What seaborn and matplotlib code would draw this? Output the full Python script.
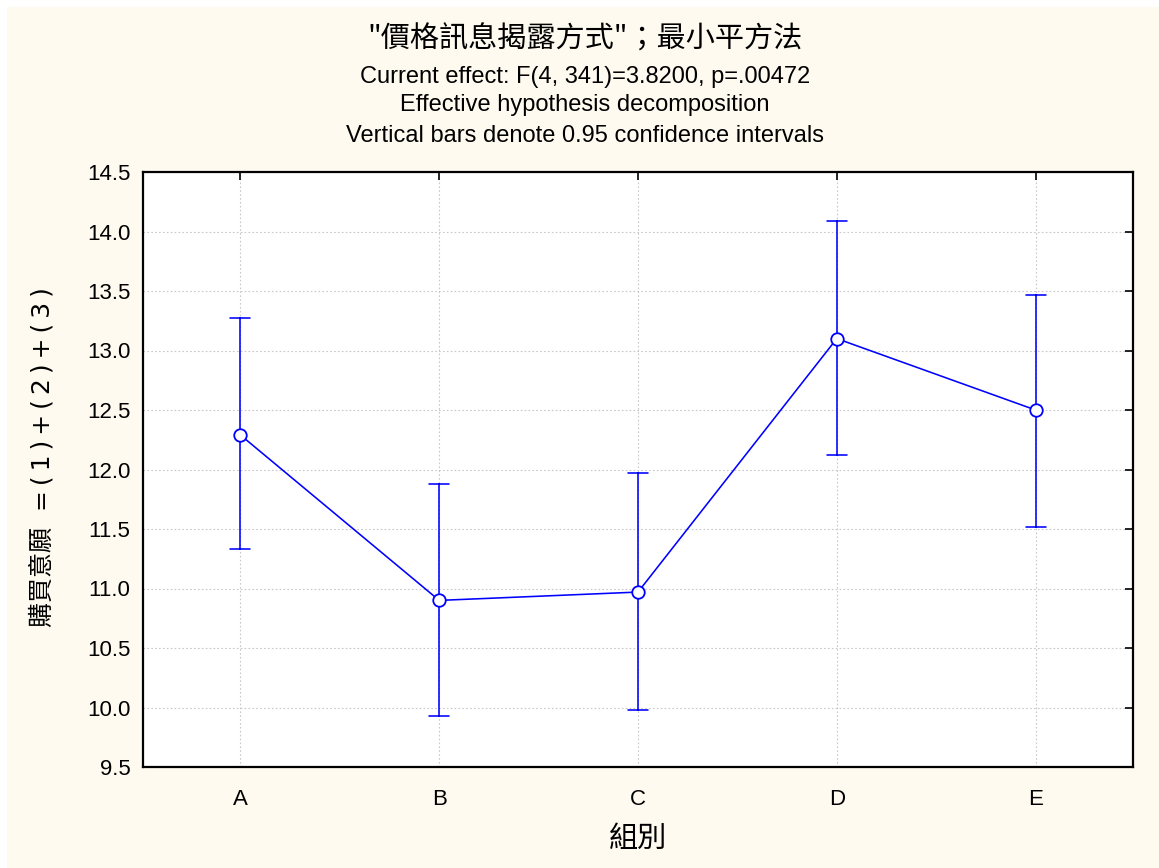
import pandas as pd
import matplotlib.pyplot as plt
import seaborn as sns
from matplotlib.patches import Rectangle

# Group means and 0.95 confidence limits
groups = ['A', 'B', 'C', 'D', 'E']
means = [12.29, 10.90, 10.97, 13.10, 12.50]
lower = [11.33, 9.93, 9.98, 12.12, 11.52]
upper = [13.27, 11.88, 11.97, 14.09, 13.47]

y_ticks = [9.5, 10.0, 10.5, 11.0, 11.5, 12.0, 12.5, 13.0, 13.5, 14.0, 14.5]

# long table: low / mean / high per group -> median = mean, full range = CI
rows = []
for g, lo, m, hi in zip(groups, lower, means, upper):
    for v in (lo, m, hi):
        rows.append({'組別': g, 'value': v})
df = pd.DataFrame(rows)

sns.set_style("white")
plt.rcParams['font.family'] = ['Liberation Sans', 'Noto Sans CJK TC', 'DejaVu Sans']
plt.rcParams['text.color'] = 'black'
plt.rcParams['axes.labelcolor'] = 'black'
cjk = ['Noto Sans CJK TC', 'Liberation Sans', 'DejaVu Sans']

fig = plt.figure(figsize=(11.59, 8.68), dpi=100, facecolor='white')
fig.patches.append(Rectangle((7 / 1159, 0), 1 - 7 / 1159, 1 - 7 / 868,
                             transform=fig.transFigure, facecolor='#fefaf0',
                             edgecolor='none', zorder=-10))
ax = fig.add_axes([143 / 1159, 101 / 868, 990 / 1159, 595 / 868])
ax.set_facecolor('white')

sns.pointplot(data=df, x='組別', y='value', order=groups,
              estimator='median', errorbar=('pi', 100),
              color='#0000ff', markers='o', markersize=9,
              linewidth=1.15, capsize=0.1, err_kws={'linewidth': 1.15},
              ax=ax)

for ln in ax.lines:
    ln.set_markerfacecolor('white')
    ln.set_markeredgecolor('#0000ff')
    ln.set_markeredgewidth(1.3)
    if ln.get_marker() == 'o':
        ln.set_zorder(5)

ax.set_xlim(-0.49, 4.49)
ax.set_ylim(9.5, 14.5)
ax.set_yticks(y_ticks)
ax.set_yticklabels([f'{t:.1f}' for t in y_ticks])

ax.grid(True, color='#c8c8c8', linestyle=(0, (1.5, 2)), linewidth=0.8)
ax.set_axisbelow(True)
for s in ax.spines.values():
    s.set_color('black')
    s.set_linewidth(1.6)

ax.tick_params(axis='both', direction='in', length=6, width=1.2,
               top=True, right=True, labelsize=16, colors='black')
ax.tick_params(axis='x', pad=16)
ax.tick_params(axis='y', pad=9)

ax.set_xlabel('組別', fontsize=21, family=cjk, labelpad=10)
ylab = '購買意願  ' + '\u2009'.join('=(1)+(2)+(3)')
ax.set_ylabel(ylab, fontsize=18, family=['DejaVu Sans', 'Noto Sans CJK TC'])
ax.yaxis.set_label_coords(-0.089, 0.521)

cx = 585 / 1159
fig.text(cx, 1 - 40 / 868, '"價格訊息揭露方式"；最小平方法', ha='center', va='center',
         fontsize=21, family=cjk)
fig.text(cx, 1 - 77 / 868, 'Current effect: F(4, 341)=3.8200, p=.00472',
         ha='center', va='center', fontsize=17)
fig.text(cx, 1 - 105 / 868, 'Effective hypothesis decomposition',
         ha='center', va='center', fontsize=17)
fig.text(cx, 1 - 136 / 868, 'Vertical bars denote 0.95 confidence intervals',
         ha='center', va='center', fontsize=17)

plt.savefig('out.png', dpi=100, facecolor=fig.get_facecolor())
